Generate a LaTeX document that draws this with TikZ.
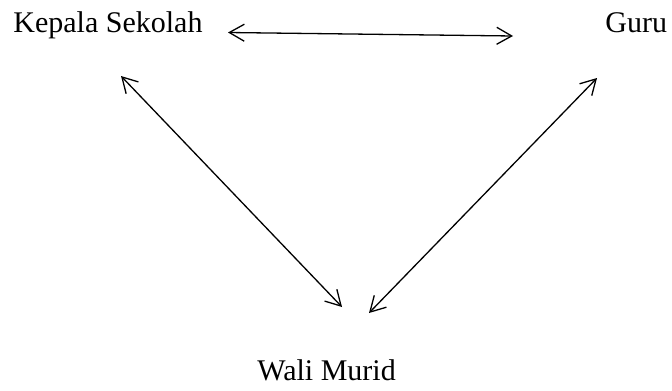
\documentclass[tikz,border=0pt]{standalone}
\usepackage{fontspec}
\setmainfont{Liberation Serif}
\usetikzlibrary{arrows.meta}
\tikzset{
  pihak/.style={inner sep=0pt,anchor=base west,font=\fontsize{15pt}{18pt}\selectfont},
  hubungan/.style={<->,line width=.65pt}
}
\begin{document}
\begin{tikzpicture}[x=.5pt,y=-.5pt,>={Straight Barb[length=7.5pt,width=8.5pt,line width=.65pt]}]
\useasboundingbox (0,0) rectangle (672,390);
\node[pihak](kepsek) at (13,33){Kepala Sekolah};
\node[pihak](guru) at (605,33){Guru};
\node[pihak](wali) at (257,380){Wali Murid};
\coordinate (k1) at (228,32.5);
\coordinate (k2) at (121,76);
\coordinate (g1) at (513,36);
\coordinate (g2) at (597,78);
\coordinate (w1) at (342,307);
\coordinate (w2) at (369,313);
\draw[hubungan](k1)--(g1);
\draw[hubungan](k2)--(w1);
\draw[hubungan](g2)--(w2);
\end{tikzpicture}
\end{document}
